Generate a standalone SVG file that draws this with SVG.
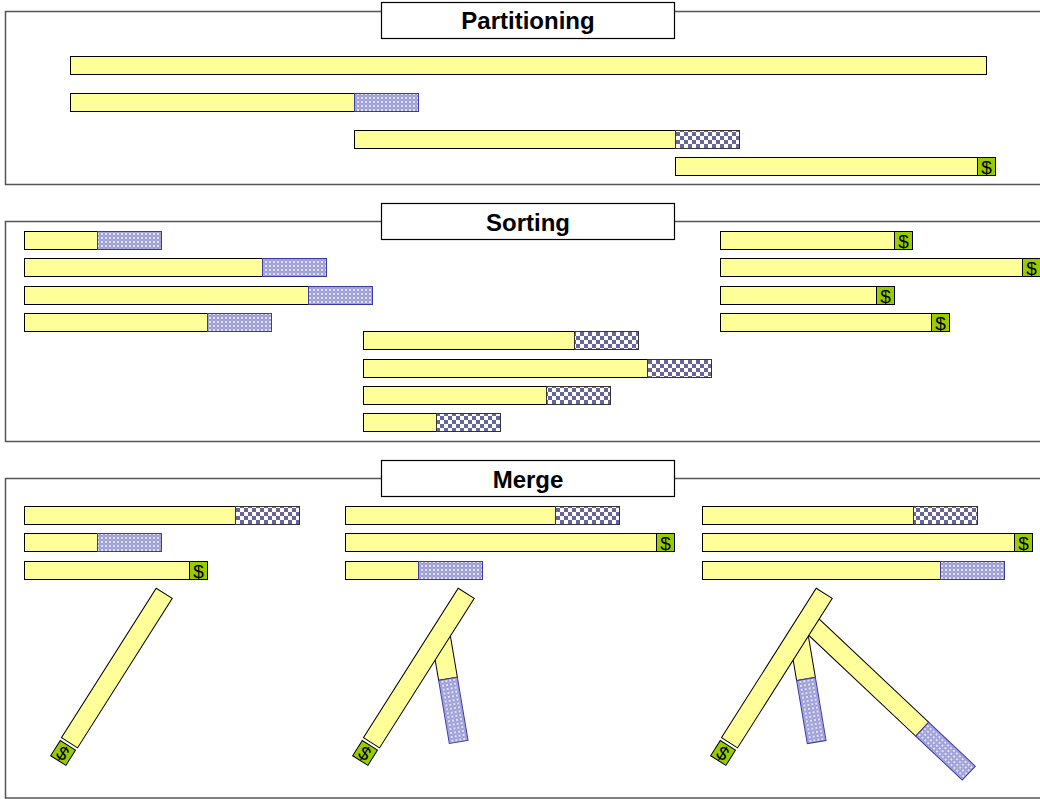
<svg xmlns="http://www.w3.org/2000/svg" width="1040" height="799" viewBox="0 0 1040 799">
  <style>
    .panel { fill: none; stroke: #555; stroke-width: 1.5; }
    .title-box { fill: #fff; stroke: #000; stroke-width: 1.2; }
    .title { font-family: "Liberation Sans", Arial, sans-serif; font-weight: bold; font-size: 24px; text-anchor: middle; fill: #000; }
    .y { fill: #ffff99; stroke: #000; stroke-width: 1; }
    .h { fill: url(#hatch); stroke: #3a3aa8; stroke-width: 1; }
    .c { fill: url(#checker); stroke: #333; stroke-width: 1; }
    .d { fill: #99cc00; stroke: #000; stroke-width: 1; }
    .dt { font-family: "Liberation Sans", Arial, sans-serif; font-size: 19px; text-anchor: middle; fill: #000; }
  </style>
  <defs>
    <pattern id="hatch" patternUnits="userSpaceOnUse" width="4" height="4">
      <rect width="4" height="4" fill="#9c9cd6"/>
      <circle cx="2" cy="2" r="1.1" fill="#f4f4ff"/>
      <circle cx="0" cy="0" r="0.6" fill="#d8d8f4"/>
      <circle cx="4" cy="0" r="0.6" fill="#d8d8f4"/>
      <circle cx="0" cy="4" r="0.6" fill="#d8d8f4"/>
      <circle cx="4" cy="4" r="0.6" fill="#d8d8f4"/>
    </pattern>
    <pattern id="checker" patternUnits="userSpaceOnUse" width="8" height="8">
      <rect width="8" height="8" fill="#fff"/>
      <rect width="4" height="4" fill="#66669c"/>
      <rect x="4" y="4" width="4" height="4" fill="#66669c"/>
    </pattern>
  </defs>

  <!-- ===== Partitioning ===== -->
  <g id="partitioning">
    <path class="panel" d="M1041,11.5 H5.5 V184.5 H1041"/>
    <rect class="title-box" x="381.5" y="2.5" width="293" height="36"/>
    <text class="title" x="528" y="29">Partitioning</text>
  </g>
  <g id="p-bar1"><rect class="y" x="70.5" y="56.5" width="916" height="18"/></g>
  <g id="p-bar2"><rect class="y" x="70.5" y="93.5" width="284" height="18"/><rect class="h" x="354.5" y="93.5" width="64" height="18"/></g>
  <g id="p-bar3"><rect class="y" x="354.5" y="130.5" width="321" height="18"/><rect class="c" x="675.5" y="130.5" width="64" height="18"/></g>
  <g id="p-bar4"><rect class="y" x="675.5" y="157.5" width="302" height="18"/><rect class="d" x="977.5" y="157.5" width="18" height="18"/><text class="dt" x="986.5" y="174">$</text></g>

  <!-- ===== Sorting ===== -->
  <g id="sorting">
    <path class="panel" d="M1041,221.5 H5.5 V441.5 H1041"/>
    <rect class="title-box" x="381.5" y="203.5" width="293" height="36"/>
    <text class="title" x="528" y="231">Sorting</text>
  </g>
  <g id="s-left1"><rect class="y" x="24.5" y="231.5" width="73" height="18"/><rect class="h" x="97.5" y="231.5" width="64" height="18"/></g>
  <g id="s-left2"><rect class="y" x="24.5" y="258.5" width="238" height="18"/><rect class="h" x="262.5" y="258.5" width="64" height="18"/></g>
  <g id="s-left3"><rect class="y" x="24.5" y="286.5" width="284" height="18"/><rect class="h" x="308.5" y="286.5" width="64" height="18"/></g>
  <g id="s-left4"><rect class="y" x="24.5" y="313.5" width="183" height="18"/><rect class="h" x="207.5" y="313.5" width="64" height="18"/></g>

  <g id="s-mid1"><rect class="y" x="363.5" y="331.5" width="211" height="18"/><rect class="c" x="574.5" y="331.5" width="64" height="18"/></g>
  <g id="s-mid2"><rect class="y" x="363.5" y="359.5" width="284" height="18"/><rect class="c" x="647.5" y="359.5" width="64" height="18"/></g>
  <g id="s-mid3"><rect class="y" x="363.5" y="386.5" width="183" height="18"/><rect class="c" x="546.5" y="386.5" width="64" height="18"/></g>
  <g id="s-mid4"><rect class="y" x="363.5" y="413.5" width="73" height="18"/><rect class="c" x="436.5" y="413.5" width="64" height="18"/></g>

  <g id="s-right1"><rect class="y" x="720.5" y="231.5" width="174" height="18"/><rect class="d" x="894.5" y="231.5" width="18" height="18"/><text class="dt" x="903.5" y="248">$</text></g>
  <g id="s-right2"><rect class="y" x="720.5" y="258.5" width="302" height="18"/><rect class="d" x="1022.5" y="258.5" width="18" height="18"/><text class="dt" x="1031.5" y="275">$</text></g>
  <g id="s-right3"><rect class="y" x="720.5" y="286.5" width="156" height="18"/><rect class="d" x="876.5" y="286.5" width="18" height="18"/><text class="dt" x="885.5" y="303">$</text></g>
  <g id="s-right4"><rect class="y" x="720.5" y="313.5" width="211" height="18"/><rect class="d" x="931.5" y="313.5" width="18" height="18"/><text class="dt" x="940.5" y="330">$</text></g>

  <!-- ===== Merge ===== -->
  <g id="merge">
    <path class="panel" d="M1041,478.5 H5.5 V798 H1041"/>
    <rect class="title-box" x="381.5" y="460.5" width="293" height="36"/>
    <text class="title" x="528" y="488">Merge</text>
  </g>

  <!-- merge step 1 -->
  <g id="m1-bar1"><rect class="y" x="24.5" y="506.5" width="211" height="18"/><rect class="c" x="235.5" y="506.5" width="64" height="18"/></g>
  <g id="m1-bar2"><rect class="y" x="24.5" y="533.5" width="73" height="18"/><rect class="h" x="97.5" y="533.5" width="64" height="18"/></g>
  <g id="m1-bar3"><rect class="y" x="24.5" y="561.5" width="165" height="18"/><rect class="d" x="189.5" y="561.5" width="18" height="18"/><text class="dt" x="198.5" y="578">$</text></g>
  <g id="m1-tilted" transform="translate(69.5,742.8) rotate(-57.65)">
    <rect class="y" x="0" y="-9.5" width="177" height="19"/>
    <rect class="d" x="-21" y="-9" width="18" height="18"/>
    <text class="dt" transform="translate(-12,0) rotate(90)" x="0" y="7">$</text>
  </g>

  <!-- merge step 2 -->
  <g id="m2-bar1"><rect class="y" x="345.5" y="506.5" width="210" height="18"/><rect class="c" x="555.5" y="506.5" width="64" height="18"/></g>
  <g id="m2-bar2"><rect class="y" x="345.5" y="533.5" width="311" height="18"/><rect class="d" x="656.5" y="533.5" width="18" height="18"/><text class="dt" x="665.5" y="550">$</text></g>
  <g id="m2-bar3"><rect class="y" x="345.5" y="561.5" width="73" height="18"/><rect class="h" x="418.5" y="561.5" width="64" height="18"/></g>
  <g id="m2-short" transform="translate(448,678.8) rotate(80.4)">
    <rect class="y" x="-45" y="-9.5" width="45" height="19"/>
    <rect class="h" x="0" y="-9.5" width="64" height="19"/>
  </g>
  <g id="m2-tilted" transform="translate(371.5,742.8) rotate(-57.65)">
    <rect class="y" x="0" y="-9.5" width="177" height="19"/>
    <rect class="d" x="-21" y="-9" width="18" height="18"/>
    <text class="dt" transform="translate(-12,0) rotate(90)" x="0" y="7">$</text>
  </g>

  <!-- merge step 3 -->
  <g id="m3-bar1"><rect class="y" x="702.5" y="506.5" width="211" height="18"/><rect class="c" x="913.5" y="506.5" width="64" height="18"/></g>
  <g id="m3-bar2"><rect class="y" x="702.5" y="533.5" width="312" height="18"/><rect class="d" x="1014.5" y="533.5" width="18" height="18"/><text class="dt" x="1023.5" y="550">$</text></g>
  <g id="m3-bar3"><rect class="y" x="702.5" y="561.5" width="238" height="18"/><rect class="h" x="940.5" y="561.5" width="64" height="18"/></g>
  <g id="m3-short" transform="translate(806,679) rotate(80.4)">
    <rect class="y" x="-45" y="-9.5" width="45" height="19"/>
    <rect class="h" x="0" y="-9.5" width="64" height="19"/>
  </g>
  <g id="m3-long" transform="translate(922.2,729.2) rotate(43.3)">
    <rect class="y" x="-160" y="-9.5" width="160" height="19"/>
    <rect class="h" x="0" y="-9.5" width="64" height="19"/>
  </g>
  <g id="m3-tilted" transform="translate(729.5,742.8) rotate(-57.65)">
    <rect class="y" x="0" y="-9.5" width="177" height="19"/>
    <rect class="d" x="-21" y="-9" width="18" height="18"/>
    <text class="dt" transform="translate(-12,0) rotate(90)" x="0" y="7">$</text>
  </g>
</svg>
